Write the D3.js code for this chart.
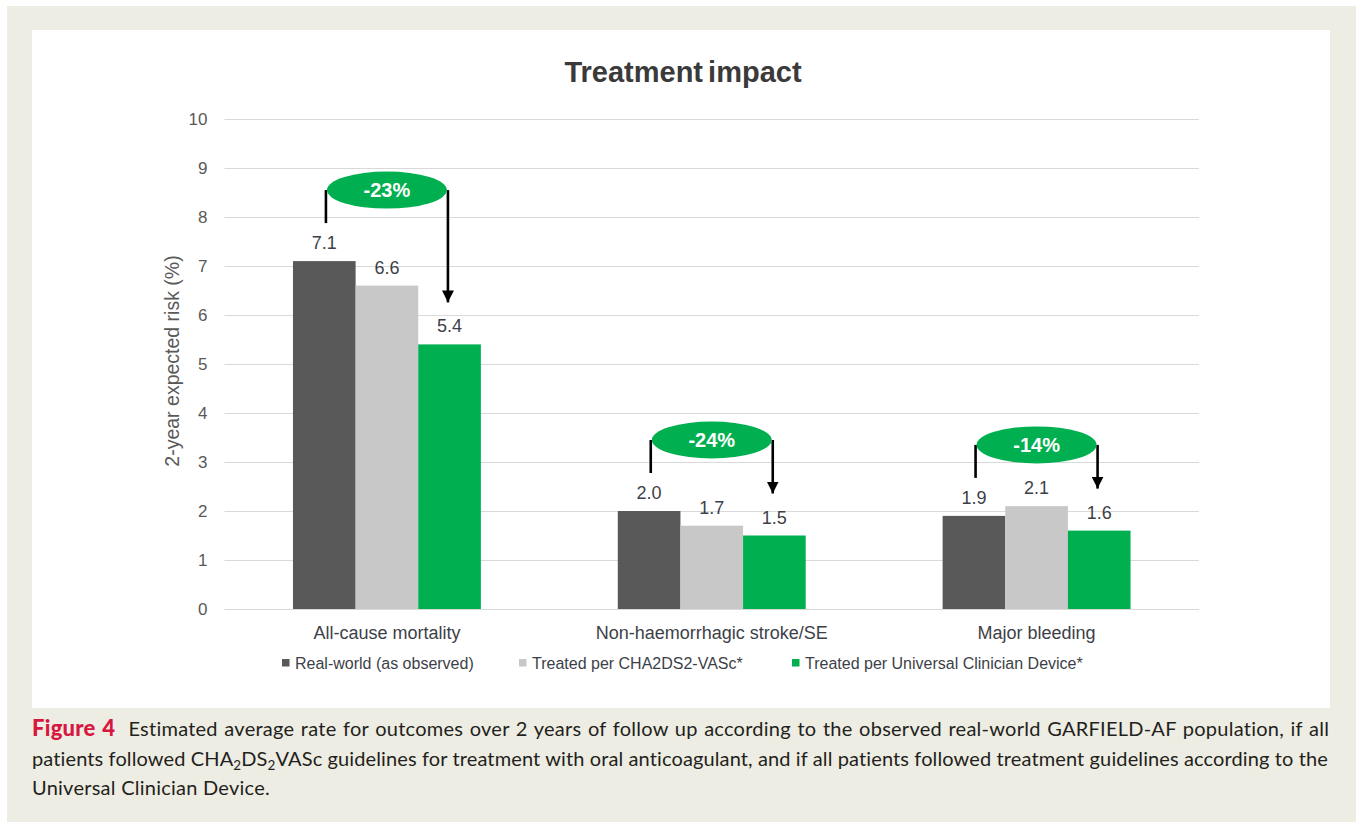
<!DOCTYPE html>
<html>
<head>
<meta charset="utf-8">
<script src="https://cdn.jsdelivr.net/npm/d3@7/dist/d3.min.js"></script>
<style>
  html, body { margin: 0; padding: 0; background: #ffffff; }
  svg { display: block; }
</style>
</head>
<body>
<svg id="fig" width="1356" height="822"></svg>
<script>
// Outcome categories and the three treatment scenarios
const categories = ["All-cause mortality", "Non-haemorrhagic stroke/SE", "Major bleeding"];
const seriesNames = [
  "Real-world (as observed)",
  "Treated per CHA2DS2-VASc*",
  "Treated per Universal Clinician Device*"
];
const realWorld = [7.1, 2.0, 1.9];
const treatedCHA2DS2VASc = [6.6, 1.7, 2.1];
const treatedUCD = [5.4, 1.5, 1.6];
const relativeChange = ["-23%", "-24%", "-14%"];
const yTicks = [0, 1, 2, 3, 4, 5, 6, 7, 8, 9, 10];

const seriesValues = [realWorld, treatedCHA2DS2VASc, treatedUCD];
const seriesColors = ["#595959", "#c8c8c8", "#00b050"];

const svg = d3.select("#fig");

// Page background and white figure panel
svg.append("rect").attr("x", 7).attr("y", 6).attr("width", 1349).attr("height", 816).attr("fill", "#eeede3");
svg.append("rect").attr("x", 32).attr("y", 30).attr("width", 1298).attr("height", 678).attr("fill", "#ffffff");

// Scales
const y = d3.scaleLinear().domain([0, 10]).range([609, 119]);
const x0 = d3.scaleBand().domain(categories).range([224.5, 1199]).paddingInner(0.4215).paddingOuter(0.2108);
const x1 = d3.scaleBand().domain(seriesNames).range([0, x0.bandwidth()]);

// Title
svg.append("text")
  .attr("x", 683).attr("y", 82)
  .attr("text-anchor", "middle")
  .attr("font-family", "Liberation Sans, Arial, sans-serif")
  .attr("font-weight", "bold")
  .attr("font-size", 29)
  .attr("word-spacing", -3)
  .attr("fill", "#3a3a3a")
  .text("Treatment impact");

// Gridlines and y-axis labels
const yAxis = d3.axisLeft(y).tickValues(yTicks).tickSize(-974.5).tickPadding(17).tickFormat(d3.format("d"));
const gAxis = svg.append("g").attr("transform", "translate(224.5,0)").call(yAxis);
gAxis.select(".domain").remove();
gAxis.selectAll(".tick line").attr("stroke", "#d9d9d9").attr("stroke-width", 1);
gAxis.selectAll(".tick text")
  .attr("font-family", "Liberation Sans, Arial, sans-serif")
  .attr("font-size", 17)
  .attr("fill", "#595959");

// Y-axis title
svg.append("text")
  .attr("transform", "translate(179,361) rotate(-90)")
  .attr("text-anchor", "middle")
  .attr("font-family", "Liberation Sans, Arial, sans-serif")
  .attr("font-size", 19.5)
  .attr("fill", "#595959")
  .text("2-year expected risk (%)");

// Bars
const groups = svg.append("g").selectAll("g")
  .data(categories)
  .join("g")
  .attr("transform", d => `translate(${x0(d)},0)`);

groups.selectAll("rect")
  .data((d, i) => seriesNames.map((s, k) => ({ s, k, v: seriesValues[k][i] })))
  .join("rect")
  .attr("x", d => x1(d.s))
  .attr("y", d => y(d.v))
  .attr("width", x1.bandwidth())
  .attr("height", d => y(0) - y(d.v))
  .attr("fill", d => seriesColors[d.k]);

// Value labels
groups.selectAll("text.val")
  .data((d, i) => seriesNames.map((s, k) => ({ s, k, v: seriesValues[k][i] })))
  .join("text")
  .attr("class", "val")
  .attr("x", d => x1(d.s) + x1.bandwidth() / 2)
  .attr("y", d => y(d.v) - 12)
  .attr("text-anchor", "middle")
  .attr("font-family", "Liberation Sans, Arial, sans-serif")
  .attr("font-size", 18)
  .attr("fill", "#3d3f48")
  .text(d => d3.format(".1f")(d.v));

// Category labels
svg.append("g").selectAll("text")
  .data(categories)
  .join("text")
  .attr("x", d => x0(d) + x0.bandwidth() / 2)
  .attr("y", 638.5)
  .attr("text-anchor", "middle")
  .attr("font-family", "Liberation Sans, Arial, sans-serif")
  .attr("font-size", 18)
  .attr("fill", "#3d3f48")
  .text(d => d);

// Relative-change callouts: ellipse badge, bracket from the real-world bar, arrow to the UCD bar
const defs = svg.append("defs");
defs.append("marker")
  .attr("id", "arrowHead")
  .attr("viewBox", "0 0 12 12")
  .attr("refX", 12).attr("refY", 6)
  .attr("markerWidth", 12).attr("markerHeight", 12)
  .attr("markerUnits", "userSpaceOnUse")
  .attr("orient", "auto")
  .append("path")
  .attr("d", "M0,0 L12,6 L0,12 Z")
  .attr("fill", "#000");

categories.forEach((c, i) => {
  const cx = x0(c) + x0.bandwidth() / 2;
  const cy = y(realWorld[i]) - 71;
  const leftX = cx - 61;
  const rightX = cx + 61;
  const g = svg.append("g");
  g.append("line")
    .attr("x1", leftX).attr("x2", leftX)
    .attr("y1", cy).attr("y2", y(realWorld[i]) - 38)
    .attr("stroke", "#000").attr("stroke-width", 2.6);
  g.append("line")
    .attr("x1", rightX).attr("x2", rightX)
    .attr("y1", cy).attr("y2", y(treatedUCD[i]) - 42)
    .attr("stroke", "#000").attr("stroke-width", 2.6)
    .attr("marker-end", "url(#arrowHead)");
  g.append("ellipse")
    .attr("cx", cx).attr("cy", cy)
    .attr("rx", 60).attr("ry", 18.5)
    .attr("fill", "#00b050");
  g.append("text")
    .attr("x", cx).attr("y", cy + 7)
    .attr("text-anchor", "middle")
    .attr("font-family", "Liberation Sans, Arial, sans-serif")
    .attr("font-weight", "bold")
    .attr("font-size", 20)
    .attr("fill", "#ffffff")
    .text(relativeChange[i]);
});

// Legend
const legendX = [282, 519, 792];
const legend = svg.append("g").selectAll("g")
  .data(seriesNames)
  .join("g")
  .attr("transform", (d, i) => `translate(${legendX[i]},663)`);
legend.append("rect")
  .attr("x", 0).attr("y", -4).attr("width", 7.5).attr("height", 7.5)
  .attr("fill", (d, i) => seriesColors[i]);
legend.append("text")
  .attr("x", 13).attr("y", 5.5)
  .attr("font-family", "Liberation Sans, Arial, sans-serif")
  .attr("font-size", 16)
  .attr("fill", "#3d3f48")
  .text(d => d);

// Caption, justified to the panel width
const baseLetterSpacing = 0.25;
const cap = svg.append("g")
  .attr("font-family", "Lato, 'Open Sans', sans-serif")
  .attr("font-size", 20)
  .attr("fill", "#231f20");

function justify(textSel, width) {
  const node = textSel.node();
  textSel.attr("letter-spacing", baseLetterSpacing).attr("word-spacing", 0);
  const content = node.textContent.trim();
  const words = content.split(/\s+/).length;
  const natural = node.getComputedTextLength();
  const extra = width - natural;
  if (extra >= 0) {
    textSel.attr("word-spacing", extra / (words - 1));
  } else {
    textSel.attr("letter-spacing", baseLetterSpacing + extra / content.length);
  }
}

const line1 = cap.append("text").attr("x", 32).attr("y", 736);
line1.append("tspan").attr("fill", "#d7173f").attr("font-weight", "900").attr("font-size", 22).text("Figure 4");
line1.append("tspan").text("\u00a0 Estimated average rate for outcomes over 2 years of follow up according to the observed real-world GARFIELD-AF population, if all");
justify(line1, 1296);

const line2 = cap.append("text").attr("x", 32).attr("y", 766);
line2.append("tspan").text("patients followed CHA");
line2.append("tspan").attr("font-size", 13.5).attr("dy", 4).text("2");
line2.append("tspan").attr("dy", -4).text("DS");
line2.append("tspan").attr("font-size", 13.5).attr("dy", 4).text("2");
line2.append("tspan").attr("dy", -4).text("VASc guidelines for treatment with oral anticoagulant, and if all patients followed treatment guidelines according to the");
justify(line2, 1296);

cap.append("text").attr("x", 32).attr("y", 795)
  .attr("letter-spacing", baseLetterSpacing)
  .text("Universal Clinician Device.");
</script>
</body>
</html>
